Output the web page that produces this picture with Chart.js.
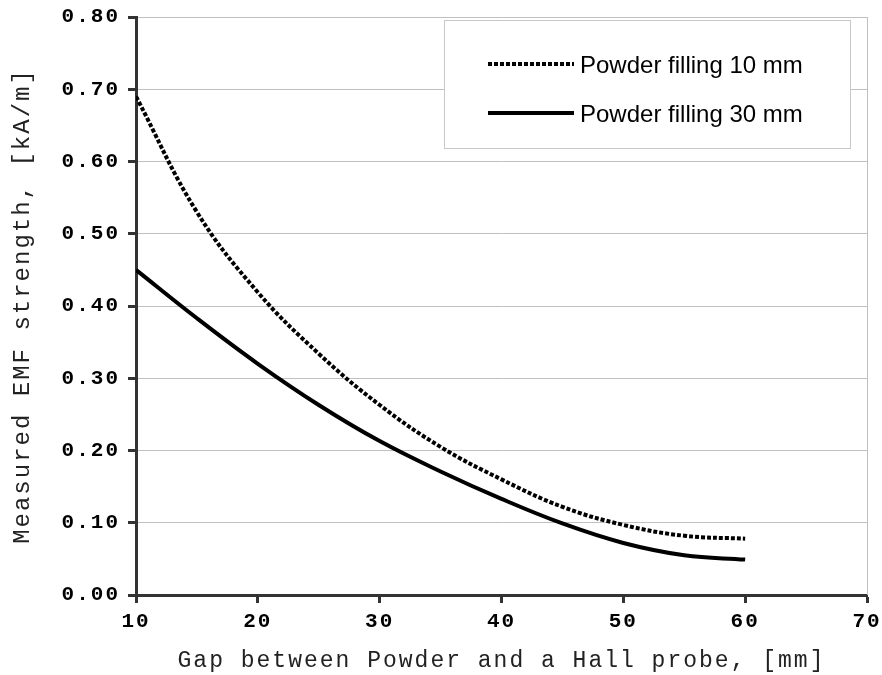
<!DOCTYPE html>
<html><head><meta charset="utf-8">
<script src="https://cdn.jsdelivr.net/npm/chart.js@4"></script>
<style>html,body{margin:0;padding:0;background:#fff}</style>
</head><body>
<canvas id="c" width="882" height="675"></canvas>
<script>
// gap [mm] vs measured EMF strength [kA/m]
const gap=[10,15,20,25,30,35,40,45,50,55,60];
const fill10=[0.690,0.530,0.419,0.334,0.263,0.205,0.160,0.122,0.097,0.082,0.078];
const fill30=[0.450,0.383,0.320,0.263,0.213,0.171,0.133,0.099,0.072,0.055,0.049];
const names=['Powder filling 10 mm','Powder filling 30 mm'];
const xTicks=[10,20,30,40,50,60,70];
const yTicks=[0,0.1,0.2,0.3,0.4,0.5,0.6,0.7,0.8];

const mono='"Liberation Mono","Courier New",monospace';

// canvas letter spacing, the reference text is spaced out
const spacing={id:'spacing',
  beforeUpdate(c){c.ctx.letterSpacing='2px'},
  beforeDraw(c){c.ctx.letterSpacing='2px'}};

// light plot-area edge on the right + boxed legend inside the plot, top right
const boxLegend={id:'boxLegend',
  beforeDatasetsDraw(c){
    const ctx=c.ctx,a=c.chartArea;
    ctx.save();ctx.strokeStyle='#c0c0c0';ctx.lineWidth=1;
    ctx.beginPath();ctx.moveTo(a.right+.5,a.top);ctx.lineTo(a.right+.5,a.bottom);ctx.stroke();
    ctx.restore();
  },
  afterDatasetsDraw(c){
  const ctx=c.ctx, a=c.chartArea;
  const w=406,h=128,x=a.right-w-17,y=a.top+3;
  ctx.save();
  ctx.letterSpacing='0px';
  ctx.fillStyle='#fff';ctx.fillRect(x,y,w,h);
  ctx.strokeStyle='#c8c8c8';ctx.lineWidth=1;ctx.strokeRect(x+.5,y+.5,w,h);
  c.data.datasets.forEach((ds,i)=>{
    const ly=y+44+i*49;
    ctx.beginPath();ctx.setLineDash(ds.borderDash||[]);
    ctx.strokeStyle=ds.borderColor;ctx.lineWidth=ds.borderWidth;
    ctx.moveTo(x+44,ly);ctx.lineTo(x+130,ly);ctx.stroke();
    ctx.setLineDash([]);
    ctx.fillStyle='#000';ctx.font='24px "Liberation Sans",Arial,sans-serif';
    ctx.textBaseline='alphabetic';ctx.fillText(ds.label,x+136,ly+8.5);
  });
  ctx.restore();
}};

new Chart(document.getElementById('c'),{
  type:'line',
  data:{datasets:[
    {label:names[0],data:gap.map((g,i)=>({x:g,y:fill10[i]})),borderColor:'#000',borderWidth:4,borderDash:[4,2],pointRadius:0,tension:.4},
    {label:names[1],data:gap.map((g,i)=>({x:g,y:fill30[i]})),borderColor:'#000',borderWidth:4,pointRadius:0,tension:.4}
  ]},
  options:{
    responsive:false,animation:false,
    layout:{padding:{left:8,right:15,top:17,bottom:0}},
    plugins:{legend:{display:false},tooltip:{enabled:false}},
    scales:{
      x:{type:'linear',min:10,max:70,
        afterBuildTicks:s=>{s.ticks=xTicks.map(v=>({value:v}))},
        afterFit:s=>{s.height=80;s.paddingLeft=0;s.paddingRight=0},
        grid:{drawOnChartArea:false,drawTicks:true,tickLength:8,tickColor:'#333',tickWidth:3},
        border:{color:'#333',width:3},
        ticks:{color:'#000',padding:6,maxRotation:0,font:{family:mono,size:21,weight:'bold'}},
        title:{display:true,text:'Gap between Powder and a Hall probe, [mm]',color:'#222',padding:0,font:{family:mono,size:23}}
      },
      y:{min:0,max:0.8,
        afterBuildTicks:s=>{s.ticks=yTicks.map(v=>({value:v}))},
        afterFit:s=>{s.width=128;s.paddingTop=0;s.paddingBottom=0},
        grid:{color:'#c0c0c0',lineWidth:1,tickLength:8,tickColor:'#333',tickWidth:3},
        border:{color:'#333',width:3},
        ticks:{color:'#000',padding:8,callback:v=>v.toFixed(2),font:{family:mono,size:21,weight:'bold'}},
        title:{display:true,text:'Measured EMF strength, [kA/m]',color:'#222',padding:0,font:{family:mono,size:24}}
      }
    }
  },
  plugins:[spacing,boxLegend]
});
</script>
</body></html>
